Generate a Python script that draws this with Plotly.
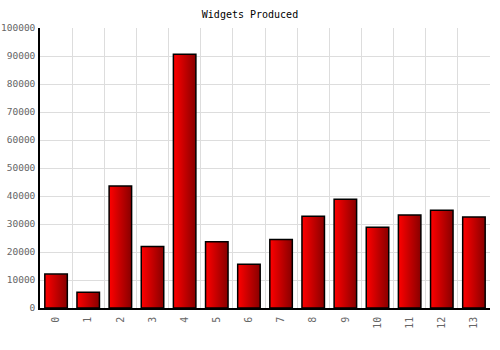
import plotly.graph_objects as go

categories = [str(i) for i in range(14)]
values = [12100, 5600, 43600, 22000, 90600, 23700, 15600, 24500, 32800, 38800, 28800, 33200, 34900, 32500]

BAR_HALF = 0.35
fig = go.Figure()
for i, v in enumerate(values):
    xs = [i - BAR_HALF, i + BAR_HALF, i + BAR_HALF, i - BAR_HALF, i - BAR_HALF]
    ys = [0, 0, v, v, 0]
    fig.add_trace(go.Scatter(
        x=xs, y=ys, mode="lines", fill="toself",
        fillgradient=dict(type="horizontal",
                          colorscale=[[0, "#ff0000"], [1, "#880000"]]),
        line=dict(color="#000000", width=1.5),
        hoverinfo="skip", showlegend=False,
    ))

fig.update_layout(
    width=500, height=350,
    margin=dict(l=40, r=10, t=28, b=42),
    paper_bgcolor="white", plot_bgcolor="white",
    title=dict(text="Widgets Produced", x=0.5, xanchor="center", y=1 - 14/350, yanchor="middle",
               font=dict(family="DejaVu Sans Mono", size=10, color="#000000")),
    font=dict(family="DejaVu Sans Mono", size=9.5, color="#666666"),
    showlegend=False,
)
fig.update_xaxes(
    range=[-0.5, 13.5], tickmode="array", automargin=False,
    tickvals=list(range(len(categories))), ticktext=categories,
    tickangle=-90, showgrid=False, zeroline=False,
    showline=True, linecolor="#000000", linewidth=1.5,
    ticks="outside", ticklen=3, tickcolor="rgba(0,0,0,0)",
    tickfont=dict(color="#666666", size=10),
    minor=dict(tickmode="array", tickvals=[i - 0.5 for i in range(len(categories) + 1)],
               showgrid=True, gridcolor="#dddddd", gridwidth=1, ticks=""),
)
fig.update_yaxes(
    range=[0, 100000], dtick=10000, tick0=0, tickformat="d", automargin=False,
    showgrid=True, gridcolor="#dddddd", gridwidth=1, zeroline=False,
    showline=True, linecolor="#000000", linewidth=1.5,
    ticks="outside", ticklen=1, tickcolor="rgba(0,0,0,0)",
    tickfont=dict(color="#666666", size=9.5),
)
fig.write_html("out.html")
